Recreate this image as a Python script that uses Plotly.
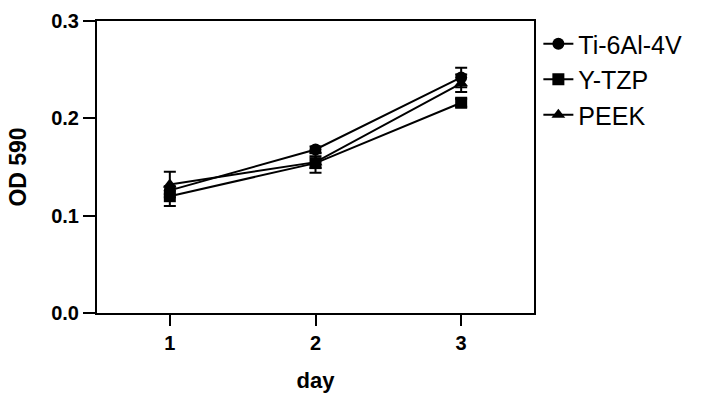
import plotly.graph_objects as go

days = [1, 2, 3]
series_names = ["Ti-6Al-4V", "Y-TZP", "PEEK"]
ti_values = [0.126, 0.168, 0.242]
ti_errors = [0.004, 0.003, 0.010]
ytzp_values = [0.120, 0.154, 0.216]
ytzp_errors = [0.010, 0.010, 0.004]
peek_values = [0.132, 0.155, 0.236]
peek_errors = [0.013, 0.006, 0.009]
y_ticks = [0.0, 0.1, 0.2, 0.3]
x_ticks = [1, 2, 3]

symbols = ["circle", "square", "triangle-up"]
values = [ti_values, ytzp_values, peek_values]
errors = [ti_errors, ytzp_errors, peek_errors]

FONT = "Arial, 'Liberation Sans', sans-serif"

fig = go.Figure()
for name, vals, errs, sym in zip(series_names, values, errors, symbols):
    fig.add_trace(go.Scatter(
        x=days, y=vals, name=name, mode="lines+markers",
        line=dict(color="black", width=2),
        marker=dict(symbol=sym, size=12, color="black"),
        error_y=dict(type="data", array=errs, visible=True,
                     color="black", thickness=2, width=6),
    ))

fig.update_layout(
    width=703, height=402,
    margin=dict(l=97, r=169, t=21, b=89),
    plot_bgcolor="white", paper_bgcolor="white",
    font=dict(family=FONT, color="black"),
    legend=dict(x=1.01, y=1.0, xanchor="left", yanchor="top",
                font=dict(size=25, family=FONT, color="black"),
                bgcolor="rgba(0,0,0,0)"),
)
fig.update_xaxes(
    range=[0.5, 3.5], tickvals=x_ticks, ticks="outside", ticklen=11,
    tickwidth=2, tickcolor="black", showline=True, linewidth=2,
    linecolor="black", mirror=True, showgrid=False, zeroline=False,
    automargin=False,
    tickfont=dict(size=20, weight="bold"),
    title=dict(text="day", font=dict(size=22, weight="bold"), standoff=20),
)
fig.update_yaxes(
    range=[0, 0.3], tickvals=y_ticks, tickformat=".1f", ticks="outside",
    ticklen=12, tickwidth=2, tickcolor="black", showline=True, linewidth=2,
    linecolor="black", mirror=True, showgrid=False, zeroline=False,
    automargin=False,
    tickfont=dict(size=20, weight="bold"),
    title=dict(text="OD 590", font=dict(size=23, weight="bold"), standoff=18),
)

fig.write_html("out.html", config={"displayModeBar": False},
               post_script="document.body.style.margin='0';")
